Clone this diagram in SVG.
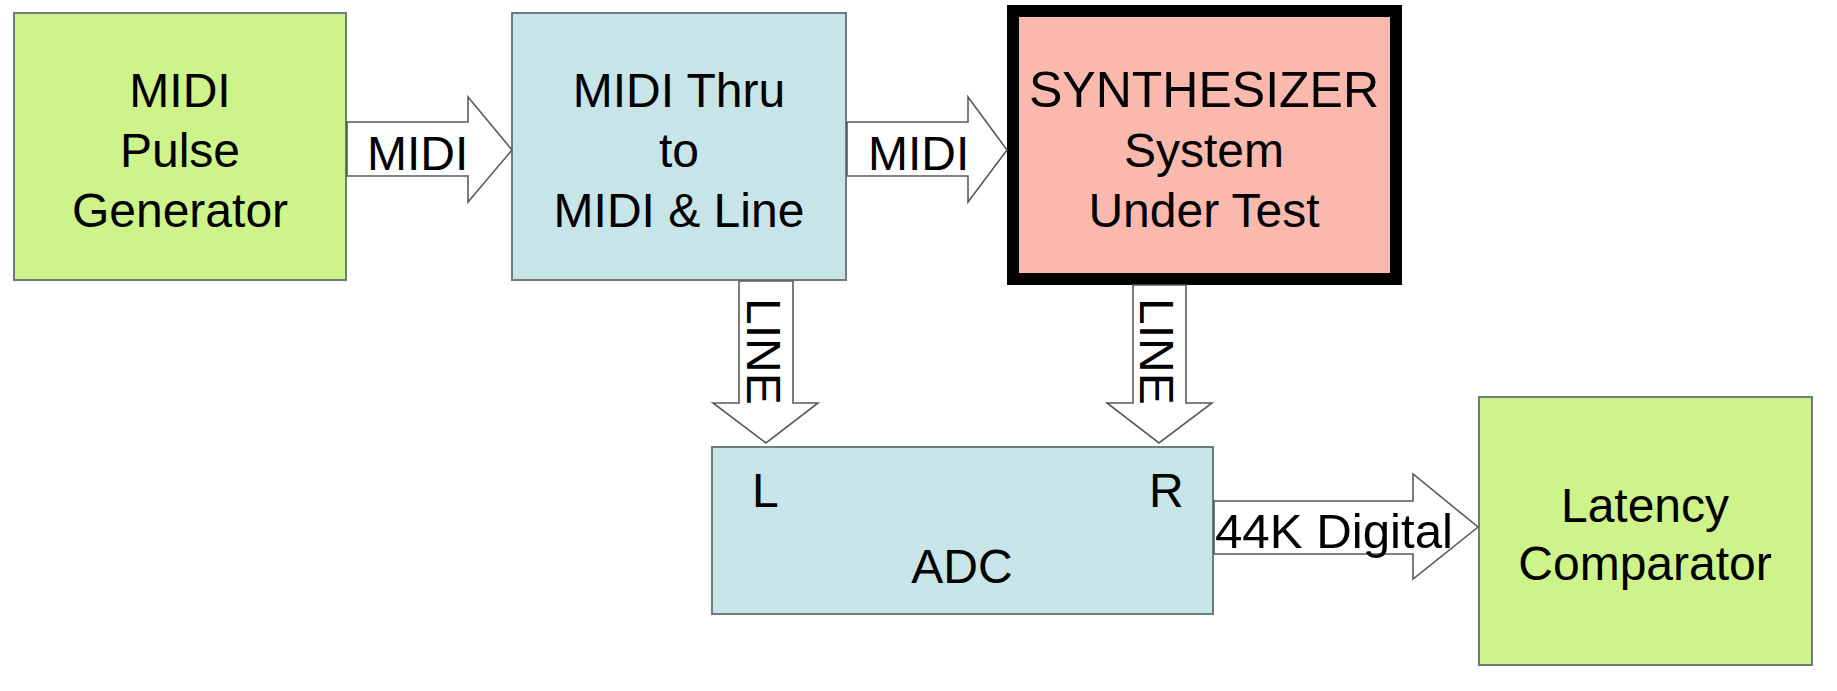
<svg xmlns="http://www.w3.org/2000/svg" width="1837" height="691" viewBox="0 0 1837 691">
  <style>
    .box { stroke: #6f7d79; stroke-width: 2; }
    .green { fill: #cdf38a; }
    .blue { fill: #c7e4e8; }
    .pink { fill: #fbb9ae; }
    .sut { stroke: #000; stroke-width: 12; }
    .arrow { fill: #ffffff; stroke: #5a5a5a; stroke-width: 1.6; stroke-linejoin: miter; }
    text { font-family: "Liberation Sans", Arial, Helvetica, sans-serif; font-size: 48px; fill: #000; }
    .c { text-anchor: middle; }
  </style>
  <rect x="0" y="0" width="1837" height="691" fill="#ffffff"/>

  <!-- nodes -->
  <g id="pulse-generator">
    <rect class="box green" x="14" y="13" width="332" height="267"/>
    <text class="c" x="180" y="107">MIDI</text>
    <text class="c" x="180" y="167">Pulse</text>
    <text class="c" x="180" y="227">Generator</text>
  </g>

  <g id="midi-thru">
    <rect class="box blue" x="512" y="13" width="334" height="267"/>
    <text class="c" x="679" y="107">MIDI Thru</text>
    <text class="c" x="679" y="167">to</text>
    <text class="c" x="679" y="227">MIDI &amp; Line</text>
  </g>

  <g id="synthesizer">
    <rect class="sut pink" x="1013" y="11" width="383" height="268"/>
    <text class="c" x="1204" y="107" style="font-size:50px">SYNTHESIZER</text>
    <text class="c" x="1204" y="167">System</text>
    <text class="c" x="1204" y="227">Under Test</text>
  </g>

  <g id="adc">
    <rect class="box blue" x="712" y="447" width="501" height="167"/>
    <text x="752" y="507">L</text>
    <text x="1149" y="507">R</text>
    <text class="c" x="962" y="583">ADC</text>
  </g>

  <g id="latency-comparator">
    <rect class="box green" x="1479" y="397" width="333" height="268"/>
    <text class="c" x="1645" y="522">Latency</text>
    <text class="c" x="1645" y="580">Comparator</text>
  </g>

  <!-- connectors: hollow block arrows with their labels -->
  <g id="connectors">
    <polygon class="arrow" points="347,122 468,122 468,97 512,150 468,202 468,176 347,176"/>
    <text x="367" y="170">MIDI</text>

    <polygon class="arrow" points="847,122 968,122 968,97 1007,150 968,202 968,176 847,176"/>
    <text x="868" y="170">MIDI</text>

    <polygon class="arrow" points="739,281 739,403 713,403 766,443 818,403 793,403 793,281"/>
    <text transform="translate(747,298) rotate(90)">LINE</text>

    <polygon class="arrow" points="1133,285 1133,403 1107,403 1159,443 1212,403 1186,403 1186,285"/>
    <text transform="translate(1140,298) rotate(90)">LINE</text>

    <polygon class="arrow" points="1214,501 1413,501 1413,474 1478,527 1413,579 1413,554 1214,554"/>
    <text x="1215" y="548" textLength="238" lengthAdjust="spacingAndGlyphs">44K Digital</text>
  </g>
</svg>
